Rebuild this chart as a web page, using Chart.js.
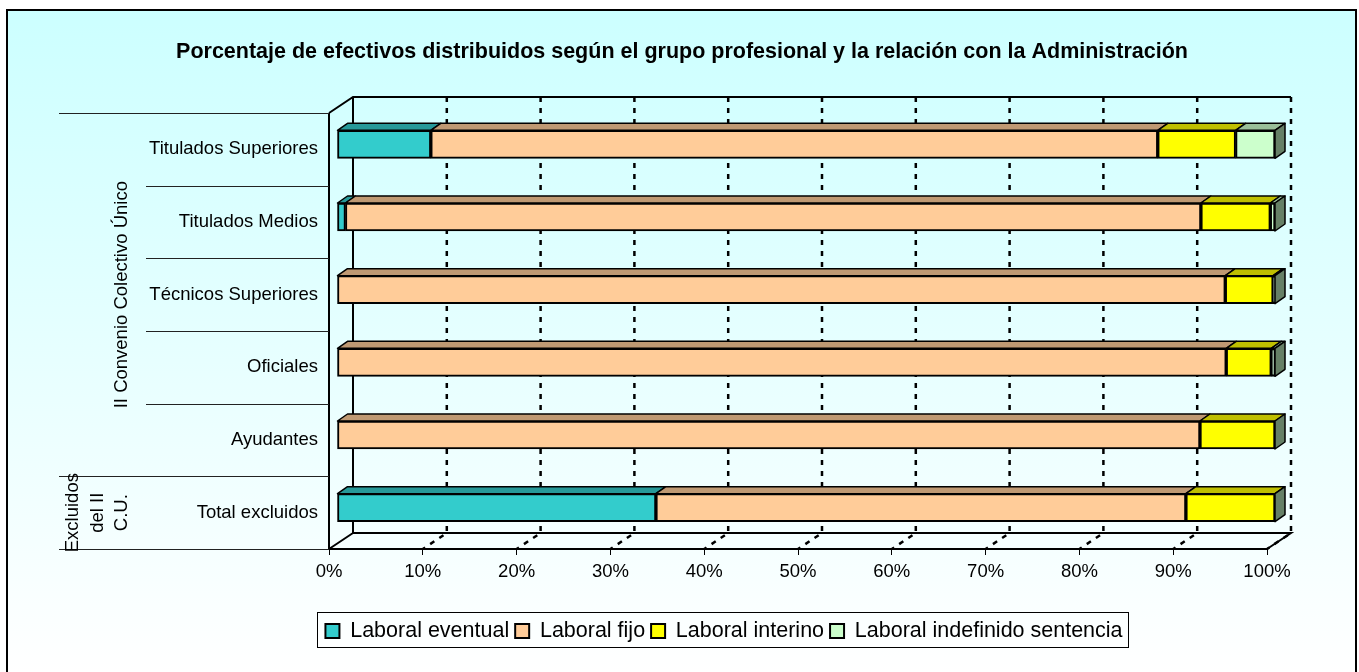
<!DOCTYPE html>
<html>
<head>
<meta charset="utf-8">
<script src="https://cdn.jsdelivr.net/npm/chart.js@4.4.0/dist/chart.umd.min.js"></script>
<style>
html, body { margin: 0; padding: 0; background: #fff; }
canvas { display: block; }
</style>
</head>
<body>
<canvas id="grafico" width="1359" height="672"></canvas>
<script>
// --- Datos ---
const categorias = ['Titulados Superiores', 'Titulados Medios', 'Técnicos Superiores', 'Oficiales', 'Ayudantes', 'Total excluidos'];
const grupos = [
    { nombre: ['II Convenio Colectivo Único'], desde: 0, hasta: 4 },
    { nombre: ['Excluidos', 'del II', 'C.U.'], desde: 5, hasta: 5 }
];
const laboralEventual   = [10.0, 0.9, 0, 0, 0, 34.0];
const laboralFijo       = [77.5, 91.2, 94.7, 94.8, 92.0, 56.5];
const laboralInterino   = [8.3, 7.4, 5.1, 4.8, 8.0, 9.5];
const laboralIndefinido = [4.2, 0.5, 0.2, 0.4, 0, 0];

const FUENTE = '"Liberation Sans", Arial, sans-serif';

// colores: frente, cara superior, lateral
const colores = {
    eventual:   ['#33cccc', '#269999'],
    fijo:       ['#ffcc99', '#bf9973'],
    interino:   ['#ffff00', '#bfbf00'],
    indefinido: ['#ccffcc', '#99bf99', '#668066']
};

// profundidad de las paredes y desplazamiento de las barras (efecto 3D)
const PROF_X = 24, PROF_Y = 16;
const BARRA_DX = 8, BARRA_DY = -5;
const CARA_DX = 10, CARA_DY = 7;

Chart.defaults.color = '#000';
Chart.defaults.font.family = FUENTE;

const fondo = {
    id: 'fondo',
    beforeDraw(chart) {
        const { ctx, width, height } = chart;
        ctx.save();
        ctx.fillStyle = '#fff';
        ctx.fillRect(0, 0, width, height);
        const g = ctx.createLinearGradient(0, 10, 0, height);
        g.addColorStop(0, '#ccffff');
        g.addColorStop(1, '#ffffff');
        ctx.fillStyle = g;
        ctx.fillRect(7, 10, 1349, height);
        ctx.lineWidth = 2;
        ctx.strokeStyle = '#000';
        ctx.strokeRect(7, 10, 1349, height + 10);
        ctx.restore();
    }
};

// title and legend are not centred on the canvas in the original
const centrado = {
    id: 'centrado',
    afterLayout(chart) {
        const mover = (caja, centro) => {
            const d = centro - (caja.left + caja.right) / 2;
            caja.left += d;
            caja.right += d;
        };
        mover(chart.titleBlock, 682);
        mover(chart.legend, 724);
    }
};

const barras3d = {
    id: 'barras3d',
    beforeDatasetsDraw(chart) {
        const { ctx, chartArea: { left: L, right: R, top: T, bottom: B }, scales: { x } } = chart;
        ctx.save();
        // paredes
        ctx.strokeStyle = '#000';
        ctx.lineWidth = 2;
        ctx.beginPath();
        ctx.moveTo(L, T); ctx.lineTo(L + PROF_X, T - PROF_Y); ctx.lineTo(R + PROF_X, T - PROF_Y);
        ctx.moveTo(L + PROF_X, T - PROF_Y); ctx.lineTo(L + PROF_X, B - PROF_Y); ctx.lineTo(R + PROF_X, B - PROF_Y); ctx.lineTo(R, B);
        ctx.moveTo(L, B); ctx.lineTo(L + PROF_X, B - PROF_Y);
        ctx.moveTo(L, T); ctx.lineTo(L, B); ctx.lineTo(R, B);
        ctx.stroke();
        // rejilla discontinua
        ctx.setLineDash([5, 6]);
        ctx.lineWidth = 2.5;
        x.ticks.forEach(t => {
            if (t.value === 0) return;
            const px = x.getPixelForValue(t.value);
            ctx.beginPath();
            ctx.moveTo(px + PROF_X, T - PROF_Y);
            ctx.lineTo(px + PROF_X, B - PROF_Y);
            ctx.lineTo(px, B);
            ctx.stroke();
        });
        ctx.restore();

        ctx.save();
        ctx.translate(BARRA_DX, BARRA_DY);
    },
    afterDatasetsDraw(chart) {
        const ctx = chart.ctx;
        ctx.lineWidth = 1.5;
        ctx.strokeStyle = '#000';
        ctx.lineJoin = 'round';
        const n = chart.data.datasets.length;
        chart.data.datasets.forEach((ds, i) => {
            const meta = chart.getDatasetMeta(i);
            meta.data.forEach(bar => {
                const { x, y, base, height } = bar.getProps(['x', 'y', 'base', 'height'], true);
                const arriba = y - height / 2, abajo = y + height / 2;
                if (x - base > 0.3) {
                    ctx.beginPath();
                    ctx.moveTo(base, arriba);
                    ctx.lineTo(base + CARA_DX, arriba - CARA_DY);
                    ctx.lineTo(x + CARA_DX, arriba - CARA_DY);
                    ctx.lineTo(x, arriba);
                    ctx.closePath();
                    ctx.fillStyle = ds.caraSuperior;
                    ctx.fill();
                    ctx.stroke();
                }
                if (i === n - 1) {
                    ctx.beginPath();
                    ctx.moveTo(x, arriba);
                    ctx.lineTo(x + CARA_DX, arriba - CARA_DY);
                    ctx.lineTo(x + CARA_DX, abajo - CARA_DY);
                    ctx.lineTo(x, abajo);
                    ctx.closePath();
                    ctx.fillStyle = colores.indefinido[2];
                    ctx.fill();
                    ctx.stroke();
                }
            });
        });
        ctx.restore();
    }
};

const grupoEtiquetas = {
    id: 'grupoEtiquetas',
    afterDraw(chart) {
        const { ctx, scales: { y }, chartArea: { left: L } } = chart;
        const paso = y.getPixelForValue(1) - y.getPixelForValue(0);
        const borde = i => y.getPixelForValue(i) - paso / 2;
        ctx.save();
        ctx.strokeStyle = '#222';
        ctx.lineWidth = 1.2;
        for (let i = 0; i <= categorias.length; i++) {
            const yy = Math.round(borde(i)) + 0.5;
            const inicio = grupos.some(g => g.desde === i) || i === categorias.length;
            ctx.beginPath();
            ctx.moveTo(inicio ? 59 : 146, yy);
            ctx.lineTo(L, yy);
            ctx.stroke();
        }
        ctx.font = '18.5px ' + FUENTE;
        ctx.fillStyle = '#000';
        ctx.textAlign = 'center';
        ctx.textBaseline = 'middle';
        grupos.forEach(g => {
            const cy = (borde(g.desde) + borde(g.hasta + 1)) / 2;
            const k = g.nombre.length;
            g.nombre.forEach((linea, j) => {
                ctx.save();
                ctx.translate(122 - (k - 1 - j) * 24.5, cy);
                ctx.rotate(-Math.PI / 2);
                ctx.fillText(linea, 0, 0);
                ctx.restore();
            });
        });
        ctx.restore();
    }
};

const marcoLeyenda = {
    id: 'marcoLeyenda',
    afterDraw(chart) {
        const cajas = chart.legend.legendHitBoxes;
        if (!cajas || !cajas.length) return;
        const izq = Math.min(...cajas.map(c => c.left));
        const der = Math.max(...cajas.map(c => c.left + c.width));
        const ctx = chart.ctx;
        ctx.save();
        ctx.strokeStyle = '#000';
        ctx.lineWidth = 1;
        ctx.strokeRect(Math.round(izq - 8) + 0.5, 612.5, Math.round(der - izq + 14), 35);
        ctx.restore();
    }
};

function serie(label, data, col) {
    return {
        label: label,
        data: data,
        backgroundColor: col[0],
        caraSuperior: col[1],
        borderColor: '#000',
        borderWidth: 2,
        borderSkipped: false,
        barThickness: 28,
        clip: false
    };
}

new Chart(document.getElementById('grafico'), {
    type: 'bar',
    data: {
        labels: categorias,
        datasets: [
            serie('Laboral eventual', laboralEventual, colores.eventual),
            serie('Laboral fijo', laboralFijo, colores.fijo),
            serie('Laboral interino', laboralInterino, colores.interino),
            serie('Laboral indefinido sentencia', laboralIndefinido, colores.indefinido)
        ]
    },
    options: {
        indexAxis: 'y',
        responsive: false,
        animation: false,
        devicePixelRatio: 1,
        layout: { padding: { left: 0, right: 92, top: 0, bottom: 20.25 } },
        plugins: {
            title: {
                display: true,
                text: 'Porcentaje de efectivos distribuidos según el grupo profesional y la relación con la Administración',
                font: { size: 21.5, weight: 'bold', family: FUENTE },
                color: '#000',
                padding: { top: 39.1, bottom: 48.1 }
            },
            legend: {
                position: 'bottom',
                labels: {
                    font: { size: 21.5, family: FUENTE },
                    color: '#000',
                    boxWidth: 14,
                    boxHeight: 14,
                    padding: 6
                }
            },
            tooltip: { enabled: false }
        },
        scales: {
            x: {
                stacked: true,
                min: 0,
                max: 100,
                ticks: {
                    stepSize: 10,
                    padding: 6,
                    font: { size: 18.5, family: FUENTE },
                    color: '#000',
                    callback: v => v + '%'
                },
                grid: { drawOnChartArea: false, drawTicks: true, tickLength: 6, color: '#000' },
                border: { display: false },
                afterFit(scale) { scale.height = 65.25; }
            },
            y: {
                stacked: true,
                ticks: { padding: 11, font: { size: 18.5, family: FUENTE }, color: '#000' },
                grid: { display: false, drawTicks: false },
                border: { display: false },
                afterFit(scale) { scale.width = 329; }
            }
        }
    },
    plugins: [fondo, centrado, barras3d, grupoEtiquetas, marcoLeyenda]
});
</script>
</body>
</html>
